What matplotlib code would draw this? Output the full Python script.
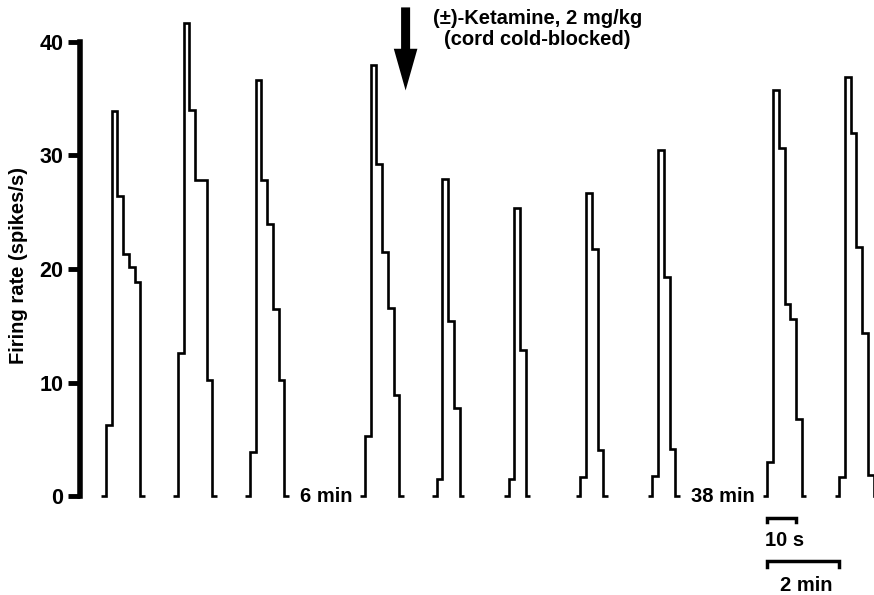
import matplotlib
matplotlib.use("Agg")
import matplotlib.pyplot as plt
import numpy as np

plt.rcParams['font.family'] = ['Liberation Sans', 'DejaVu Sans']
plt.rcParams['font.weight'] = 'bold'

# firing rate (spikes/s) in successive 2 s bins for each sweep
h1 = [6.3, 33.9, 26.4, 21.3, 20.2, 18.9]
h2 = [12.6, 41.6, 34.0, 27.8, 27.8, 10.2]
h3 = [3.9, 36.6, 27.8, 24.0, 16.5, 10.2]
h4 = [5.3, 37.9, 29.2, 21.5, 16.6, 8.9]
h5 = [1.5, 27.9, 15.4, 7.8]
h6 = [1.5, 25.4, 12.9]
h7 = [1.7, 26.7, 21.8, 4.1]
h8 = [1.8, 30.5, 19.3, 4.2]
h9 = [3.0, 35.7, 30.6, 16.9, 15.6, 6.8]
h10 = [1.7, 36.9, 32.0, 21.9, 14.4, 1.9]
sweeps = [h1, h2, h3, h4, h5, h6, h7, h8, h9, h10]

bin_s = 2.0
y_ticks = [0, 10, 20, 30, 40]
gap_labels = {3: '6 min', 8: '38 min'}

# layout: sweep slots (one slot = 2 min), with breaks before sweeps 4 and 9
slot_pos = [0, 1, 2, 3.6, 4.6, 5.6, 6.6, 7.6, 9.2, 10.2]
slot_w = 25.0
pad = 1.6
fs = 14.5

fig = plt.figure(figsize=(8.74, 5.95), dpi=100)
ax = fig.add_axes([80 / 874, 0.156, 1 - 80 / 874, 0.822])

for i, vals in enumerate(sweeps):
    start = slot_pos[i] * slot_w
    edges = start + bin_s * np.arange(len(vals) + 1)
    edges = np.concatenate([[start - pad], edges, [edges[-1] + pad]])
    ax.stairs([0] + vals + [0], edges, baseline=None, color='black', lw=1.9)
    if i in gap_labels:
        ax.text(start - 4.3, 0, gap_labels[i], ha='right', va='center', fontsize=fs)

# drug arrow + annotation
ax.annotate('', xy=(104.2, 35.7), xytext=(104.2, 43.0), annotation_clip=False,
            arrowprops=dict(width=6.5, headwidth=17, headlength=30, facecolor='black',
                            edgecolor='black', lw=0, shrink=0))
ax.text(150, 41.1, '(±)-Ketamine, 2 mg/kg\n(cord cold-blocked)', ha='center', va='center',
        fontsize=fs, linespacing=1.15, clip_on=False)

# scale bars
x0 = slot_pos[8] * slot_w
ax.plot([x0, x0, x0 + 10, x0 + 10], [-2.25, -1.92, -1.92, -2.25], color='black', lw=2.5,
        clip_on=False, solid_joinstyle='miter')
ax.text(x0 + 6, -3.85, '10 s', ha='center', va='center', fontsize=fs)
ax.plot([x0, x0, x0 + slot_w, x0 + slot_w], [-6.2, -5.64, -5.64, -6.2], color='black', lw=2.5,
        clip_on=False, solid_joinstyle='miter')
ax.text(x0 + 13.5, -7.8, '2 min', ha='center', va='center', fontsize=fs)

ax.set_xlim(-9.04, 267.1)
ax.set_ylim(-0.5, 42.5)
for s in ['top', 'right', 'bottom']:
    ax.spines[s].set_visible(False)
ax.spines['left'].set_linewidth(4)
ax.spines['left'].set_bounds(0, 40)
ax.set_xticks([])
ax.set_yticks(y_ticks)
ax.tick_params(axis='y', length=8.5, width=3.5, pad=3.5, labelsize=15.5)

fig.text(18.5 / 874, 1 - 265 / 595, 'Firing rate (spikes/s)', rotation=90, ha='center',
         va='center', fontsize=fs)

fig.savefig('out.png', dpi=100)
